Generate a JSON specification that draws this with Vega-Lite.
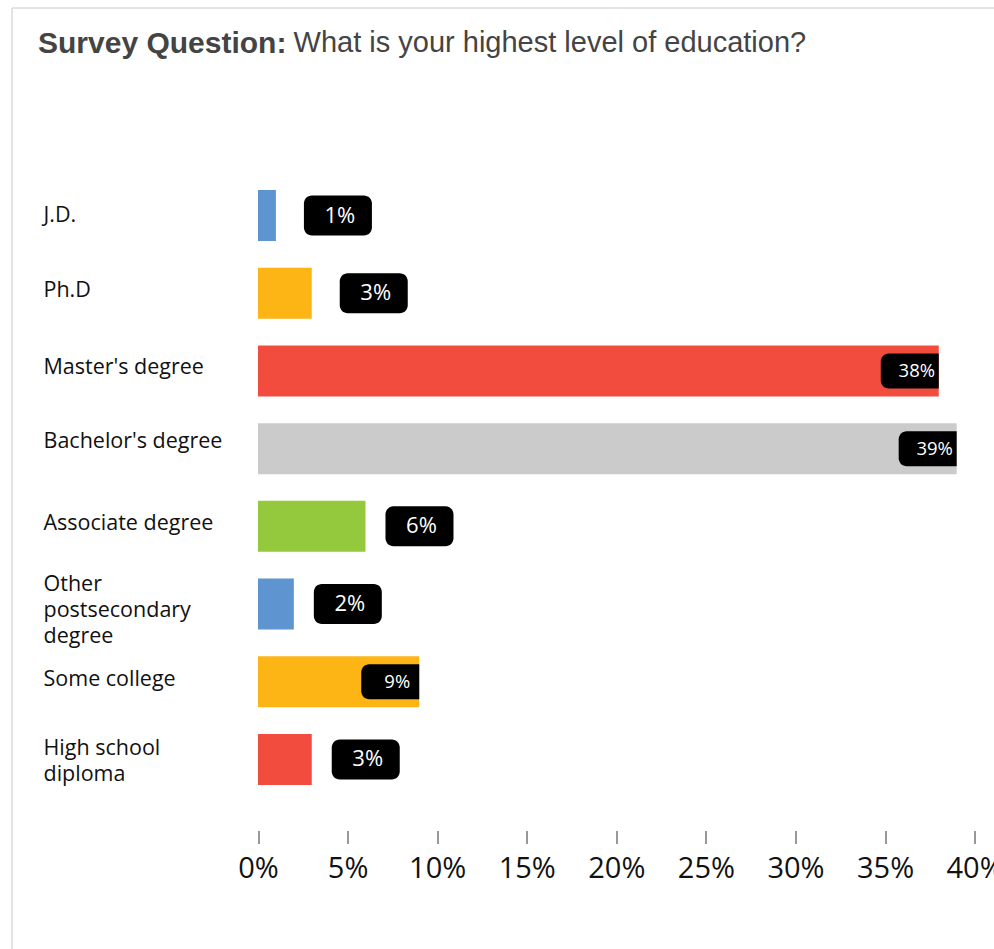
{
  "$schema": "https://vega.github.io/schema/vega-lite/v6.json",
  "autosize": {"type": "none"},
  "width": 982.5,
  "height": 941.5,
  "padding": {"left": 11.5, "top": 7.5, "right": 0, "bottom": 0},
  "background": "white",
  "title": {
    "text": "Survey Question:",
    "subtitle": "\u200b\u00a0\u00a0\u00a0\u00a0\u00a0\u00a0\u00a0\u00a0\u00a0\u00a0\u00a0\u00a0\u00a0\u00a0\u00a0\u00a0\u00a0\u00a0\u00a0\u00a0\u00a0\u00a0\u00a0\u00a0\u00a0\u00a0\u00a0\u00a0\u00a0\u00a0\u00a0\u2009What is your highest level of education?",
    "anchor": "start",
    "frame": "group",
    "orient": "top",
    "font": "Liberation Sans",
    "fontSize": 30,
    "fontWeight": "bold",
    "color": "#444444",
    "lineHeight": 30,
    "subtitleFont": "Liberation Sans",
    "subtitleFontSize": 29,
    "subtitleFontWeight": "normal",
    "subtitleColor": "#444444",
    "subtitleLineHeight": 30,
    "subtitlePadding": -30,
    "offset": 0,
    "dx": 26.5,
    "dy": 51
  },
  "data": {
    "values": [
      {"level": "J.D.", "pct": 0.01},
      {"level": "Ph.D", "pct": 0.03},
      {"level": "Master's degree", "pct": 0.38},
      {"level": "Bachelor's degree", "pct": 0.39},
      {"level": "Associate degree", "pct": 0.06},
      {"level": "Other postsecondary degree", "pct": 0.02},
      {"level": "Some college", "pct": 0.09},
      {"level": "High school diploma", "pct": 0.03}
    ]
  },
  "encoding": {
    "x": {
      "field": "pct",
      "type": "quantitative",
      "scale": {"domain": [0, 0.4], "range": [246.5, 963.1], "nice": false, "zero": true},
      "axis": {
        "orient": "bottom",
        "values": [0, 0.05, 0.1, 0.15, 0.2, 0.25, 0.3, 0.35, 0.4],
        "format": ".0%",
        "title": null,
        "domain": false,
        "grid": false,
        "ticks": true,
        "tickSize": 13,
        "tickColor": "#333333",
        "tickWidth": 1,
        "labelFont": "Open Sans",
        "labelFontSize": 29,
        "labelColor": "#111111",
        "labelPadding": 11,
        "labelFlush": false,
        "labelOverlap": false,
        "offset": -118.5
      }
    },
    "y": {
      "field": "level",
      "type": "nominal",
      "sort": null,
      "scale": {"range": [182.5, 777.5], "paddingInner": 0.3437, "paddingOuter": 0},
      "axis": {
        "title": null,
        "domain": false,
        "ticks": false,
        "grid": false,
        "labelAlign": "left",
        "labelBaseline": "middle",
        "labelPadding": 0,
        "offset": -31.5,
        "labelFont": "Open Sans",
        "labelFontSize": 21.5,
        "labelColor": "#111111",
        "labelLineHeight": 26,
        "labelLimit": 0,
        "labelOffset": {
          "condition": [
            {"test": "datum.value === 'Other postsecondary degree'", "value": -19},
            {"test": "datum.value === 'High school diploma'", "value": -10},
            {"test": "datum.value === \"Bachelor's degree\"", "value": -7},
            {"test": "datum.value === \"Master's degree\"", "value": -3},
            {"test": "datum.value === 'J.D.'", "value": 0}
          ],
          "value": -2
        },
        "labelExpr": "datum.label == 'Other postsecondary degree' ? ['Other', 'postsecondary', 'degree'] : datum.label == 'High school diploma' ? ['High school', 'diploma'] : datum.label"
      }
    }
  },
  "layer": [
    {
      "mark": {"type": "bar"},
      "encoding": {
        "color": {
          "field": "level",
          "type": "nominal",
          "legend": null,
          "scale": {
            "domain": ["J.D.", "Ph.D", "Master's degree", "Bachelor's degree", "Associate degree", "Other postsecondary degree", "Some college", "High school diploma"],
            "range": ["#5e95d1", "#fdb415", "#f14c3e", "#cbcbcb", "#95c93d", "#5e95d1", "#fdb415", "#f14c3e"]
          }
        }
      }
    },
    {
      "transform": [{"filter": "datum.level === 'J.D.' || datum.level === 'Ph.D'"}],
      "mark": {
        "type": "point",
        "shape": "M-0.7647,-0.5882L0.7647,-0.5882A0.2353,0.2353,0,0,1,1,-0.3529L1,0.3529A0.2353,0.2353,0,0,1,0.7647,0.5882L-0.7647,0.5882A0.2353,0.2353,0,0,1,-1,0.3529L-1,-0.3529A0.2353,0.2353,0,0,1,-0.7647,-0.5882Z",
        "size": 4624,
        "filled": true,
        "color": "#000000",
        "opacity": 1,
        "strokeWidth": 0,
        "xOffset": 62
      }
    },
    {
      "transform": [{"filter": "datum.level === 'J.D.' || datum.level === 'Ph.D'"}],
      "mark": {
        "type": "text",
        "font": "Open Sans",
        "fontSize": 22,
        "color": "#ffffff",
        "align": "center",
        "baseline": "middle",
        "xOffset": 64
      },
      "encoding": {"text": {"field": "pct", "type": "quantitative", "format": ".0%"}}
    },
    {
      "transform": [{"filter": "datum.pct < 0.08 && datum.level !== 'J.D.' && datum.level !== 'Ph.D'"}],
      "mark": {
        "type": "point",
        "shape": "M-0.7647,-0.5882L0.7647,-0.5882A0.2353,0.2353,0,0,1,1,-0.3529L1,0.3529A0.2353,0.2353,0,0,1,0.7647,0.5882L-0.7647,0.5882A0.2353,0.2353,0,0,1,-1,0.3529L-1,-0.3529A0.2353,0.2353,0,0,1,-0.7647,-0.5882Z",
        "size": 4624,
        "filled": true,
        "color": "#000000",
        "opacity": 1,
        "strokeWidth": 0,
        "xOffset": 54
      }
    },
    {
      "transform": [{"filter": "datum.pct < 0.08 && datum.level !== 'J.D.' && datum.level !== 'Ph.D'"}],
      "mark": {
        "type": "text",
        "font": "Open Sans",
        "fontSize": 22,
        "color": "#ffffff",
        "align": "center",
        "baseline": "middle",
        "xOffset": 56
      },
      "encoding": {"text": {"field": "pct", "type": "quantitative", "format": ".0%"}}
    },
    {
      "transform": [{"filter": "datum.pct >= 0.08"}],
      "mark": {
        "type": "point",
        "shape": "M-0.7241,-0.6034L1,-0.6034L1,0.6034L-0.7241,0.6034A0.2759,0.2759,0,0,1,-1,0.3276L-1,-0.3276A0.2759,0.2759,0,0,1,-0.7241,-0.6034Z",
        "size": 3364,
        "filled": true,
        "color": "#000000",
        "opacity": 1,
        "strokeWidth": 0,
        "xOffset": -29
      }
    },
    {
      "transform": [{"filter": "datum.pct >= 0.08"}],
      "mark": {
        "type": "text",
        "font": "Open Sans",
        "fontSize": 18.5,
        "color": "#ffffff",
        "align": "center",
        "baseline": "middle",
        "xOffset": -22
      },
      "encoding": {"text": {"field": "pct", "type": "quantitative", "format": ".0%"}}
    }
  ],
  "config": {
    "view": {"stroke": "#c8c8c8", "strokeWidth": 1},
    "font": "Open Sans"
  }
}
